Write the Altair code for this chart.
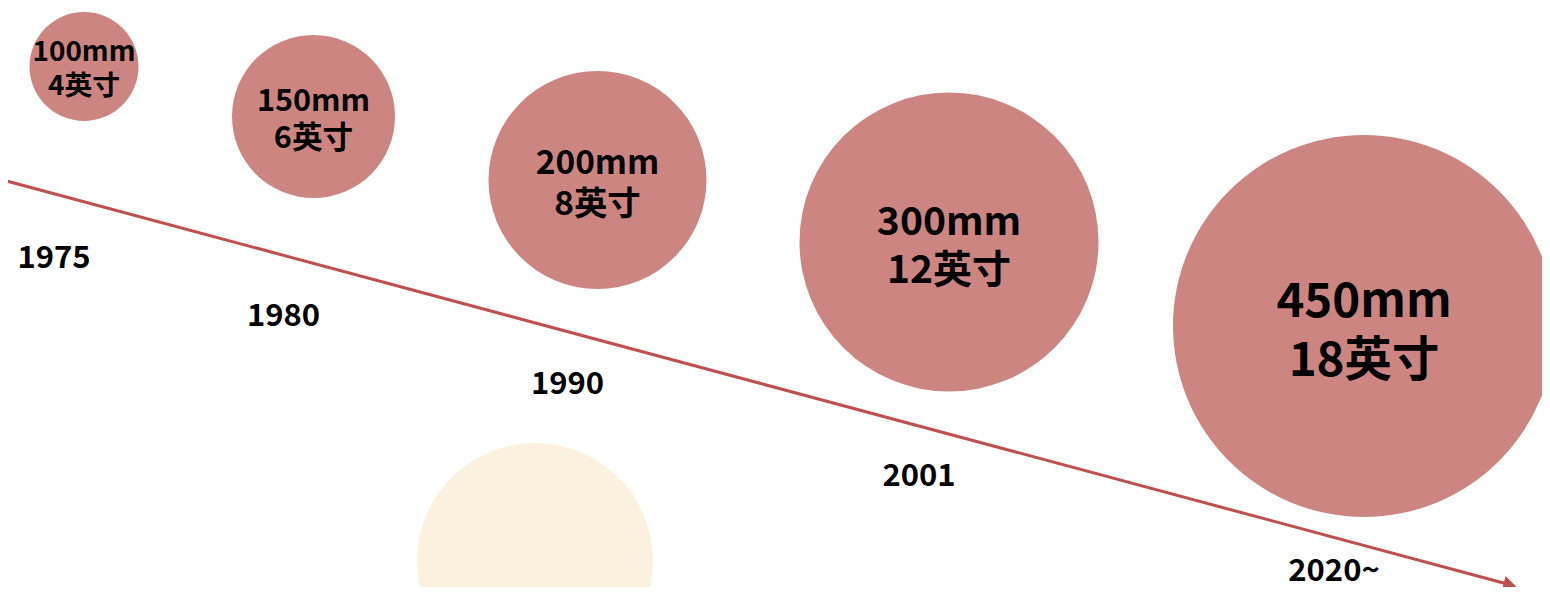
import altair as alt
import pandas as pd

# ---- data ----
years = [1975, 1980, 1990, 2001, 2020]
year_labels = ["1975", "1980", "1990", "2001", "2020~"]
diameter_mm = [100, 150, 200, 300, 450]
diameter_inch = [4, 6, 8, 12, 18]

df = pd.DataFrame({
    "year": years,
    "year_label": year_labels,
    "mm": diameter_mm,
    "inch": diameter_inch,
})
df["label"] = [f"{m}mm\n{i}英寸" for m, i in zip(diameter_mm, diameter_inch)]

W, H = 1534, 579
FONT = "Noto Sans CJK SC"
CIRCLE = "#CD8582"
LINE = "#C0504D"

x_scale = alt.Scale(domain=years, range=[76, 305.5, 589.5, 941, 1356], nice=False, zero=False)
y_circle = alt.Scale(domain=diameter_mm, range=[58.5, 108.5, 172, 234, 318], nice=False, zero=False)
y_years = alt.Scale(domain=years, range=[250.5, 309, 377, 468.5, 564], nice=False, zero=False)
size_circle = alt.Scale(domain=diameter_mm, range=[109**2, 163**2, 218**2, 299**2, 382**2], zero=False)

base = alt.Chart(df)

# faint background emblem (watermark)
emblem = alt.Chart(alt.Data(values=[{"k": 1}])).mark_point(
    shape="circle", filled=True, color="#FBF1DE", opacity=1, size=236**2
).encode(x=alt.value(527), y=alt.value(553))

arrow_line = alt.Chart(alt.Data(values=[{"k": 1}])).mark_rule(
    color=LINE, strokeWidth=3
).encode(x=alt.value(-5), y=alt.value(172), x2=alt.value(1503), y2=alt.value(577))

arrow_head = alt.Chart(alt.Data(values=[{"k": 1}])).mark_point(
    shape="triangle-right", filled=True, color=LINE, opacity=1, size=230, angle=15
).encode(x=alt.value(1502), y=alt.value(577))

circles = base.mark_circle(color=CIRCLE, opacity=1).encode(
    x=alt.X("year:Q", scale=x_scale, axis=None),
    y=alt.Y("mm:Q", scale=y_circle, axis=None),
    size=alt.Size("mm:Q", scale=size_circle, legend=None),
)

circle_text = base.transform_calculate(
    fs="22.25 + 0.0559 * datum.mm"
).mark_text(
    font=FONT, fontWeight="bold", color="#000000", align="center", baseline="middle",
    lineBreak="\n", lineHeight={"expr": "datum.fs * 1.23"}, dy={"expr": "-datum.fs * 0.48"}
).encode(
    x=alt.X("year:Q", scale=x_scale, axis=None),
    y=alt.Y("mm:Q", scale=y_circle, axis=None),
    text="label:N",
    size=alt.Size("fs:Q", scale=None, legend=None),
)

year_text = base.mark_text(
    font=FONT, fontWeight="bold", fontSize=31, color="#000000", align="center",
    baseline="middle", dx=-30
).encode(
    x=alt.X("year:Q", scale=x_scale, axis=None),
    y=alt.Y("year:Q", scale=y_years, axis=None),
    text="year_label:N",
)

chart = alt.layer(
    emblem, arrow_line, arrow_head, circles, circle_text, year_text
).resolve_scale(
    y="independent", size="independent"
).properties(
    width=W, height=H, padding=0,
    autosize=alt.AutoSizeParams(type="none"),
    background="white",
).configure_view(stroke=None)

chart.save("out.html", embed_options={"renderer": "svg", "actions": False})
